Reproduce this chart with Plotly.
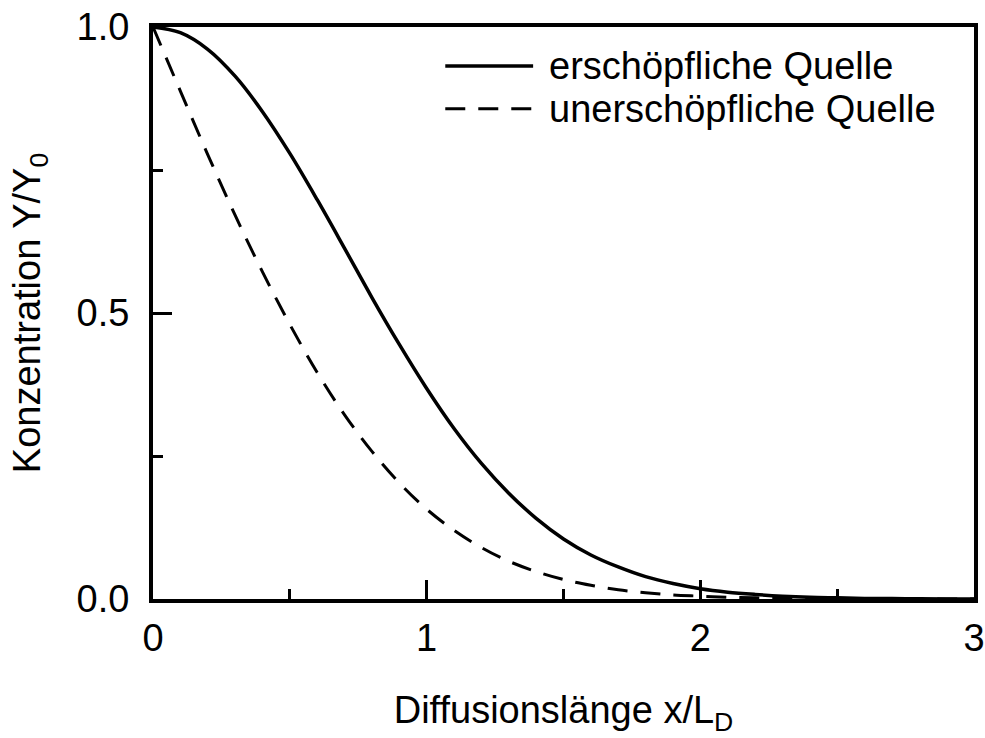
import plotly.graph_objects as go

# Values (x in units of L_D)
x_vals = [0.0, 0.1, 0.2, 0.3, 0.4, 0.5, 0.6, 0.7, 0.8, 0.9, 1.0,
          1.1, 1.2, 1.3, 1.4, 1.5, 1.6, 1.7, 1.8, 1.9, 2.0,
          2.1, 2.2, 2.3, 2.4, 2.5, 2.6, 2.7, 2.8, 2.9, 3.0]
erschoepflich = [1.000, 0.990, 0.961, 0.914, 0.852, 0.779, 0.698, 0.613, 0.527, 0.445, 0.368,
                 0.298, 0.237, 0.185, 0.141, 0.105, 0.077, 0.056, 0.039, 0.027, 0.018,
                 0.012, 0.008, 0.005, 0.003, 0.002, 0.001, 0.0007, 0.0004, 0.0002, 0.0001]
unerschoepflich = [1.000, 0.888, 0.777, 0.671, 0.572, 0.480, 0.396, 0.322, 0.258, 0.203, 0.157,
                   0.120, 0.090, 0.066, 0.048, 0.034, 0.024, 0.016, 0.011, 0.007, 0.005,
                   0.003, 0.002, 0.001, 0.0007, 0.0004, 0.0002, 0.0001, 0.0, 0.0, 0.0]
series_names = ['erschöpfliche Quelle', 'unerschöpfliche Quelle']

FONT = 'Liberation Sans, Arial, sans-serif'
DASH = '20px,13px'

fig = go.Figure()
fig.add_trace(go.Scatter(
    x=x_vals, y=erschoepflich, mode='lines', name=series_names[0],
    line=dict(color='black', width=3.5, shape='spline'), showlegend=False,
))
fig.add_trace(go.Scatter(
    x=x_vals, y=unerschoepflich, mode='lines', name=series_names[1],
    line=dict(color='black', width=3, dash=DASH, shape='spline'), showlegend=False,
))

# legend drawn by hand so the line samples are as long as in the original
legend_rows = [(0.932, 'solid', 3.5), (0.857, DASH, 3)]
for name, (yy, dash, w) in zip(series_names, legend_rows):
    fig.add_shape(type='line', xref='paper', yref='paper',
                  x0=0.356, x1=0.463, y0=yy, y1=yy,
                  line=dict(color='black', width=w, dash=dash))
    fig.add_annotation(xref='paper', yref='paper', x=0.480, y=yy,
                       xanchor='left', yanchor='middle', showarrow=False,
                       text=name, font=dict(size=38, color='black', family=FONT))

axis_common = dict(
    showline=True, linecolor='black', linewidth=4, mirror=True,
    ticks='inside', tickcolor='black', tickwidth=3, ticklen=19,
    showgrid=False, zeroline=False, automargin=False,
    ticklabeloverflow='allow',
    tickfont=dict(size=38, color='black', family=FONT),
)

fig.update_xaxes(
    range=[0, 3], dtick=1, tick0=0, ticklabelstandoff=2,
    minor=dict(dtick=0.5, ticks='inside', ticklen=10, tickwidth=3, tickcolor='black', showgrid=False),
    title=dict(text='Diffusionslänge x/L<sub>D</sub>', font=dict(size=38, color='black', family=FONT), standoff=40),
    **axis_common,
)
fig.update_yaxes(
    range=[0, 1], dtick=0.5, tick0=0, tickformat='.1f', ticklabelstandoff=12,
    minor=dict(dtick=0.25, ticks='inside', ticklen=10, tickwidth=3, tickcolor='black', showgrid=False),
    title=dict(text='Konzentration Y/Y<sub>0</sub>', font=dict(size=38, color='black', family=FONT), standoff=25),
    **axis_common,
)

fig.update_layout(
    width=985, height=738,
    margin=dict(l=153, r=11, t=27, b=139),
    plot_bgcolor='white', paper_bgcolor='white',
    font=dict(family=FONT, color='black'),
    showlegend=False,
)

# drop the default 8px page margin so the figure fills the window
fig.write_html('out.html', config={'displayModeBar': False},
               post_script="document.body.style.margin='0';")
